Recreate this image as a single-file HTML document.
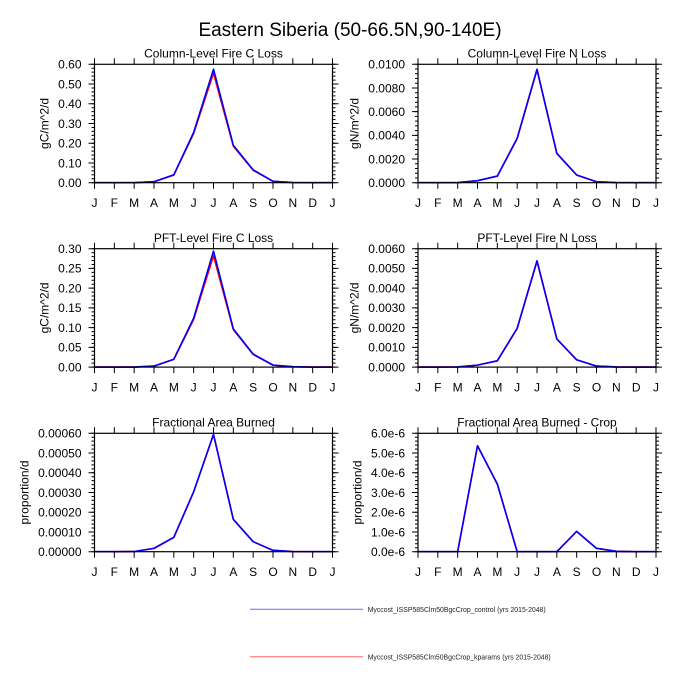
<!DOCTYPE html>
<html><head><meta charset="utf-8"><style>
html,body{margin:0;padding:0;background:#fff;}
svg{display:block;font-family:"Liberation Sans",Arial,sans-serif;}
.tl{font-size:12px;text-anchor:end;fill:#000;}
.xl{font-size:12px;text-anchor:middle;fill:#000;}
.st{font-size:12px;text-anchor:middle;fill:#000;}
.yl{font-size:12px;text-anchor:middle;fill:#000;}
.fr{fill:none;stroke:#000;stroke-width:1.2;}
.tk{fill:none;stroke:#000;}
.b{fill:none;stroke:#0000ff;stroke-width:1.6;stroke-linejoin:round;}
.r{fill:none;stroke:#ff0000;stroke-width:1.6;stroke-linejoin:round;}
</style></head><body>
<svg width="700" height="700" viewBox="0 0 700 700" xmlns="http://www.w3.org/2000/svg">
<rect width="700" height="700" fill="#fff"/>
<text x="350" y="36" font-size="19" text-anchor="middle" fill="#000">Eastern Siberia (50-66.5N,90-140E)</text>

<!-- Panel 1 -->
<g transform="translate(94.5,64.3)">
<text class="st" x="119" y="-6.8">Column-Level Fire C Loss</text>
<polyline class="r" points="0,118.4 19.83,118.4 39.67,118.4 59.5,117.41 79.33,110.7 99.17,69.07 119,8.88 138.83,81.89 158.67,105.97 178.5,117.02 198.33,118.2 218.17,118.4 238,118.4"/>
<polyline class="b" points="0,118.4 19.83,118.4 39.67,118.4 59.5,117.41 79.33,110.51 99.17,68.08 119,4.93 138.83,80.91 158.67,105.57 178.5,117.02 198.33,118.2 218.17,118.4 238,118.4"/>
<rect class="fr" x="0" y="0" width="238" height="118.4"/>
<path class="tk" d="M -1.5 118.9 V -0.5" stroke-width="3" stroke-dasharray="1 2.947"/>
<path class="tk" d="M -3 118.9 V -0.5" stroke-width="6" stroke-dasharray="1 18.733"/>
<path class="tk" d="M 239.5 118.9 V -0.5" stroke-width="3" stroke-dasharray="1 2.947"/>
<path class="tk" d="M 241 118.9 V -0.5" stroke-width="6" stroke-dasharray="1 18.733"/>
<path class="tk" d="M -0.5 -3 H 238.6" stroke-width="6" stroke-dasharray="1 18.833"/>
<path class="tk" d="M -0.5 121.4 H 238.6" stroke-width="6" stroke-dasharray="1 18.833"/>
<text class="tl" x="-13" y="122.7">0.00</text>
<text class="tl" x="-13" y="102.97">0.10</text>
<text class="tl" x="-13" y="83.23">0.20</text>
<text class="tl" x="-13" y="63.5">0.30</text>
<text class="tl" x="-13" y="43.77">0.40</text>
<text class="tl" x="-13" y="24.03">0.50</text>
<text class="tl" x="-13" y="4.3">0.60</text>
<text class="yl" transform="translate(-46,59.2) rotate(-90)">gC/m^2/d</text>
<g class="xl"><text x="0" y="142.7">J</text><text x="19.83" y="142.7">F</text><text x="39.67" y="142.7">M</text><text x="59.5" y="142.7">A</text><text x="79.33" y="142.7">M</text><text x="99.17" y="142.7">J</text><text x="119" y="142.7">J</text><text x="138.83" y="142.7">A</text><text x="158.67" y="142.7">S</text><text x="178.5" y="142.7">O</text><text x="198.33" y="142.7">N</text><text x="218.17" y="142.7">D</text><text x="238" y="142.7">J</text></g>
</g>

<!-- Panel 2 -->
<g transform="translate(418,64.3)">
<text class="st" x="119" y="-6.8">Column-Level Fire N Loss</text>
<polyline class="r" points="0,118.4 19.83,118.4 39.67,118.28 59.5,116.45 79.33,111.8 99.17,74.3 119,5.6 138.83,89.3 158.67,110.8 178.5,117.45 198.33,118.28 218.17,118.4 238,118.4"/>
<polyline class="b" points="0,118.4 19.83,118.4 39.67,118.28 59.5,116.39 79.33,111.77 99.17,74.0 119,4.97 138.83,89.04 158.67,110.7 178.5,117.45 198.33,118.28 218.17,118.4 238,118.4"/>
<rect class="fr" x="0" y="0" width="238" height="118.4"/>
<path class="tk" d="M -1.5 118.9 V -0.5" stroke-width="3" stroke-dasharray="1 3.736"/>
<path class="tk" d="M -3 118.9 V -0.5" stroke-width="6" stroke-dasharray="1 22.68"/>
<path class="tk" d="M 239.5 118.9 V -0.5" stroke-width="3" stroke-dasharray="1 3.736"/>
<path class="tk" d="M 241 118.9 V -0.5" stroke-width="6" stroke-dasharray="1 22.68"/>
<path class="tk" d="M -0.5 -3 H 238.6" stroke-width="6" stroke-dasharray="1 18.833"/>
<path class="tk" d="M -0.5 121.4 H 238.6" stroke-width="6" stroke-dasharray="1 18.833"/>
<text class="tl" x="-13" y="122.7">0.0000</text>
<text class="tl" x="-13" y="99.02">0.0020</text>
<text class="tl" x="-13" y="75.34">0.0040</text>
<text class="tl" x="-13" y="51.66">0.0060</text>
<text class="tl" x="-13" y="27.98">0.0080</text>
<text class="tl" x="-13" y="4.3">0.0100</text>
<text class="yl" transform="translate(-59.4,59.2) rotate(-90)">gN/m^2/d</text>
<g class="xl"><text x="0" y="142.7">J</text><text x="19.83" y="142.7">F</text><text x="39.67" y="142.7">M</text><text x="59.5" y="142.7">A</text><text x="79.33" y="142.7">M</text><text x="99.17" y="142.7">J</text><text x="119" y="142.7">J</text><text x="138.83" y="142.7">A</text><text x="158.67" y="142.7">S</text><text x="178.5" y="142.7">O</text><text x="198.33" y="142.7">N</text><text x="218.17" y="142.7">D</text><text x="238" y="142.7">J</text></g>
</g>

<!-- Panel 3 -->
<g transform="translate(94.5,248.7)">
<text class="st" x="119" y="-6.8">PFT-Level Fire C Loss</text>
<polyline class="r" points="0,118.4 19.83,118.4 39.67,118.4 59.5,117.41 79.33,110.7 99.17,70.65 119,7.1 138.83,80.91 158.67,105.77 178.5,116.43 198.33,118.01 218.17,118.4 238,118.4"/>
<polyline class="b" points="0,118.4 19.83,118.4 39.67,118.4 59.5,117.41 79.33,110.51 99.17,69.46 119,2.37 138.83,80.12 158.67,105.38 178.5,116.43 198.33,118.01 218.17,118.4 238,118.4"/>
<rect class="fr" x="0" y="0" width="238" height="118.4"/>
<path class="tk" d="M -1.5 118.9 V -0.5" stroke-width="3" stroke-dasharray="1 2.947"/>
<path class="tk" d="M -3 118.9 V -0.5" stroke-width="6" stroke-dasharray="1 18.733"/>
<path class="tk" d="M 239.5 118.9 V -0.5" stroke-width="3" stroke-dasharray="1 2.947"/>
<path class="tk" d="M 241 118.9 V -0.5" stroke-width="6" stroke-dasharray="1 18.733"/>
<path class="tk" d="M -0.5 -3 H 238.6" stroke-width="6" stroke-dasharray="1 18.833"/>
<path class="tk" d="M -0.5 121.4 H 238.6" stroke-width="6" stroke-dasharray="1 18.833"/>
<text class="tl" x="-13" y="122.7">0.00</text>
<text class="tl" x="-13" y="102.97">0.05</text>
<text class="tl" x="-13" y="83.23">0.10</text>
<text class="tl" x="-13" y="63.5">0.15</text>
<text class="tl" x="-13" y="43.77">0.20</text>
<text class="tl" x="-13" y="24.03">0.25</text>
<text class="tl" x="-13" y="4.3">0.30</text>
<text class="yl" transform="translate(-46,59.2) rotate(-90)">gC/m^2/d</text>
<g class="xl"><text x="0" y="142.7">J</text><text x="19.83" y="142.7">F</text><text x="39.67" y="142.7">M</text><text x="59.5" y="142.7">A</text><text x="79.33" y="142.7">M</text><text x="99.17" y="142.7">J</text><text x="119" y="142.7">J</text><text x="138.83" y="142.7">A</text><text x="158.67" y="142.7">S</text><text x="178.5" y="142.7">O</text><text x="198.33" y="142.7">N</text><text x="218.17" y="142.7">D</text><text x="238" y="142.7">J</text></g>
</g>

<!-- Panel 4 -->
<g transform="translate(418,248.7)">
<text class="st" x="119" y="-6.8">PFT-Level Fire N Loss</text>
<polyline class="r" points="0,118.4 19.83,118.4 39.67,118.2 59.5,116.43 79.33,112.1 99.17,79.8 119,12.6 138.83,90.4 158.67,111.2 178.5,117.41 198.33,118.2 218.17,118.4 238,118.4"/>
<polyline class="b" points="0,118.4 19.83,118.4 39.67,118.2 59.5,116.43 79.33,112.09 99.17,79.53 119,12.04 138.83,90.18 158.67,111.1 178.5,117.41 198.33,118.2 218.17,118.4 238,118.4"/>
<rect class="fr" x="0" y="0" width="238" height="118.4"/>
<path class="tk" d="M -1.5 118.9 V -0.5" stroke-width="3" stroke-dasharray="1 2.947"/>
<path class="tk" d="M -3 118.9 V -0.5" stroke-width="6" stroke-dasharray="1 18.733"/>
<path class="tk" d="M 239.5 118.9 V -0.5" stroke-width="3" stroke-dasharray="1 2.947"/>
<path class="tk" d="M 241 118.9 V -0.5" stroke-width="6" stroke-dasharray="1 18.733"/>
<path class="tk" d="M -0.5 -3 H 238.6" stroke-width="6" stroke-dasharray="1 18.833"/>
<path class="tk" d="M -0.5 121.4 H 238.6" stroke-width="6" stroke-dasharray="1 18.833"/>
<text class="tl" x="-13" y="122.7">0.0000</text>
<text class="tl" x="-13" y="102.97">0.0010</text>
<text class="tl" x="-13" y="83.23">0.0020</text>
<text class="tl" x="-13" y="63.5">0.0030</text>
<text class="tl" x="-13" y="43.77">0.0040</text>
<text class="tl" x="-13" y="24.03">0.0050</text>
<text class="tl" x="-13" y="4.3">0.0060</text>
<text class="yl" transform="translate(-59.4,59.2) rotate(-90)">gN/m^2/d</text>
<g class="xl"><text x="0" y="142.7">J</text><text x="19.83" y="142.7">F</text><text x="39.67" y="142.7">M</text><text x="59.5" y="142.7">A</text><text x="79.33" y="142.7">M</text><text x="99.17" y="142.7">J</text><text x="119" y="142.7">J</text><text x="138.83" y="142.7">A</text><text x="158.67" y="142.7">S</text><text x="178.5" y="142.7">O</text><text x="198.33" y="142.7">N</text><text x="218.17" y="142.7">D</text><text x="238" y="142.7">J</text></g>
</g>

<!-- Panel 5 -->
<g transform="translate(94.5,433.3)">
<text class="st" x="119" y="-6.8">Fractional Area Burned</text>
<polyline class="r" points="0,118.4 19.83,118.4 39.67,118.2 59.5,115.07 79.33,104.1 99.17,58.6 119,1.3 138.83,86.2 158.67,108.4 178.5,117.06 198.33,118.2 218.17,118.4 238,118.4"/>
<polyline class="b" points="0,118.4 19.83,118.4 39.67,118.2 59.5,115.07 79.33,104.05 99.17,58.41 119,0.99 138.83,86.04 158.67,108.4 178.5,117.06 198.33,118.2 218.17,118.4 238,118.4"/>
<rect class="fr" x="0" y="0" width="238" height="118.4"/>
<path class="tk" d="M -1.5 118.9 V -0.5" stroke-width="3" stroke-dasharray="1 2.947"/>
<path class="tk" d="M -3 118.9 V -0.5" stroke-width="6" stroke-dasharray="1 18.733"/>
<path class="tk" d="M 239.5 118.9 V -0.5" stroke-width="3" stroke-dasharray="1 2.947"/>
<path class="tk" d="M 241 118.9 V -0.5" stroke-width="6" stroke-dasharray="1 18.733"/>
<path class="tk" d="M -0.5 -3 H 238.6" stroke-width="6" stroke-dasharray="1 18.833"/>
<path class="tk" d="M -0.5 121.4 H 238.6" stroke-width="6" stroke-dasharray="1 18.833"/>
<text class="tl" x="-13" y="122.7">0.00000</text>
<text class="tl" x="-13" y="102.97">0.00010</text>
<text class="tl" x="-13" y="83.23">0.00020</text>
<text class="tl" x="-13" y="63.5">0.00030</text>
<text class="tl" x="-13" y="43.77">0.00040</text>
<text class="tl" x="-13" y="24.03">0.00050</text>
<text class="tl" x="-13" y="4.3">0.00060</text>
<text class="yl" transform="translate(-66.1,59.2) rotate(-90)">proportion/d</text>
<g class="xl"><text x="0" y="142.7">J</text><text x="19.83" y="142.7">F</text><text x="39.67" y="142.7">M</text><text x="59.5" y="142.7">A</text><text x="79.33" y="142.7">M</text><text x="99.17" y="142.7">J</text><text x="119" y="142.7">J</text><text x="138.83" y="142.7">A</text><text x="158.67" y="142.7">S</text><text x="178.5" y="142.7">O</text><text x="198.33" y="142.7">N</text><text x="218.17" y="142.7">D</text><text x="238" y="142.7">J</text></g>
</g>

<!-- Panel 6 -->
<g transform="translate(418,433.3)">
<text class="st" x="119" y="-6.8">Fractional Area Burned - Crop</text>
<polyline class="r" points="0,118.4 19.83,118.4 39.67,118.4 59.5,12.6 79.33,50.9 99.17,118.4 119,118.4 138.83,118.4 158.67,98.2 178.5,115.05 198.33,118.01 218.17,118.4 238,118.4"/>
<polyline class="b" points="0,118.4 19.83,118.4 39.67,118.4 59.5,12.43 79.33,50.71 99.17,118.4 119,118.4 138.83,118.4 158.67,98.07 178.5,115.05 198.33,118.01 218.17,118.4 238,118.4"/>
<rect class="fr" x="0" y="0" width="238" height="118.4"/>
<path class="tk" d="M -1.5 118.9 V -0.5" stroke-width="3" stroke-dasharray="1 2.947"/>
<path class="tk" d="M -3 118.9 V -0.5" stroke-width="6" stroke-dasharray="1 18.733"/>
<path class="tk" d="M 239.5 118.9 V -0.5" stroke-width="3" stroke-dasharray="1 2.947"/>
<path class="tk" d="M 241 118.9 V -0.5" stroke-width="6" stroke-dasharray="1 18.733"/>
<path class="tk" d="M -0.5 -3 H 238.6" stroke-width="6" stroke-dasharray="1 18.833"/>
<path class="tk" d="M -0.5 121.4 H 238.6" stroke-width="6" stroke-dasharray="1 18.833"/>
<text class="tl" x="-13" y="122.7">0.0e-6</text>
<text class="tl" x="-13" y="102.97">1.0e-6</text>
<text class="tl" x="-13" y="83.23">2.0e-6</text>
<text class="tl" x="-13" y="63.5">3.0e-6</text>
<text class="tl" x="-13" y="43.77">4.0e-6</text>
<text class="tl" x="-13" y="24.03">5.0e-6</text>
<text class="tl" x="-13" y="4.3">6.0e-6</text>
<text class="yl" transform="translate(-56.7,59.2) rotate(-90)">proportion/d</text>
<g class="xl"><text x="0" y="142.7">J</text><text x="19.83" y="142.7">F</text><text x="39.67" y="142.7">M</text><text x="59.5" y="142.7">A</text><text x="79.33" y="142.7">M</text><text x="99.17" y="142.7">J</text><text x="119" y="142.7">J</text><text x="138.83" y="142.7">A</text><text x="158.67" y="142.7">S</text><text x="178.5" y="142.7">O</text><text x="198.33" y="142.7">N</text><text x="218.17" y="142.7">D</text><text x="238" y="142.7">J</text></g>
</g>

<!-- Legend -->
<line x1="250" y1="609.3" x2="363" y2="609.3" stroke="#6a6aff" stroke-width="1"/>
<text x="367.7" y="612" font-size="7" fill="#222" textLength="178" lengthAdjust="spacingAndGlyphs">Myccost_ISSP585Clm50BgcCrop_control (yrs 2015-2048)</text>
<line x1="250" y1="656.7" x2="363" y2="656.7" stroke="#ff6a6a" stroke-width="1"/>
<text x="367.7" y="659.4" font-size="7" fill="#222" textLength="183" lengthAdjust="spacingAndGlyphs">Myccost_ISSP585Clm50BgcCrop_kparams (yrs 2015-2048)</text>
</svg>
</body></html>
